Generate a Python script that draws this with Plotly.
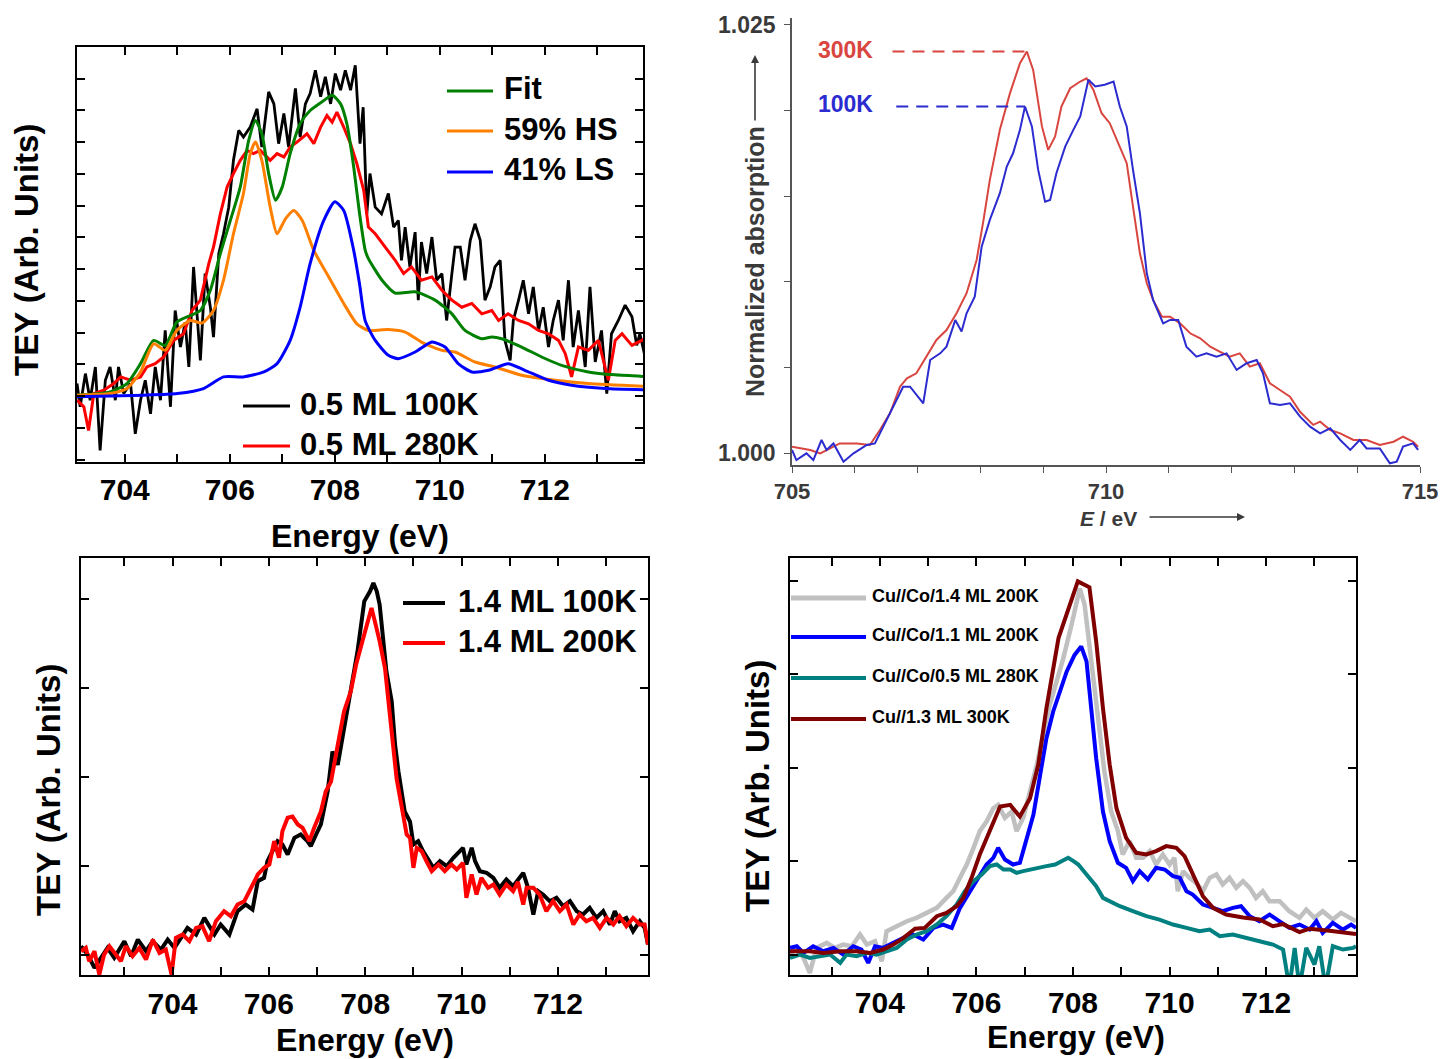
import numpy as np
import plotly.graph_objects as go

# ---------------- Panel A : 0.5 ML, fit with HS/LS components ----------------
A_100K_E = [703.09, 703.15, 703.25, 703.34, 703.44, 703.53, 703.63, 703.72, 703.82, 703.88, 703.98, 704.11, 704.2, 704.3,
            704.39, 704.49, 704.58, 704.68, 704.77, 704.87, 704.96, 705.06, 705.15, 705.22, 705.31, 705.44, 705.53, 705.63,
            705.69, 705.79, 705.88, 705.98, 706.07, 706.17, 706.26, 706.39, 706.52, 706.61, 706.74, 706.84, 706.93, 707.03,
            707.12, 707.25, 707.34, 707.44, 707.53, 707.63, 707.73, 707.82, 707.92, 708.01, 708.11, 708.2, 708.3, 708.39,
            708.48, 708.54, 708.61, 708.67, 708.77, 708.89, 709.02, 709.12, 709.21, 709.27, 709.34, 709.43, 709.53, 709.59,
            709.65, 709.75, 709.85, 709.94, 710.04, 710.13, 710.23, 710.29, 710.39, 710.48, 710.58, 710.67, 710.77, 710.86,
            710.96, 711.05, 711.15, 711.24, 711.34, 711.4, 711.5, 711.59, 711.69, 711.78, 711.88, 711.97, 712.07, 712.16,
            712.26, 712.35, 712.45, 712.54, 712.64, 712.77, 712.86, 712.96, 713.08, 713.18, 713.27, 713.4, 713.53, 713.66,
            713.75, 713.81, 713.91]
A_100K = [18.9, 13.3, 21.3, 14.9, 22.9, 2.8, 19.7, 22.9, 14.9, 22.9, 16.5, 18.9, 6.8, 14.9,
          19.7, 11.6, 22.9, 14.9, 31.7, 13.3, 36.5, 27.7, 33.7, 22.9, 47.0, 24.5, 45.4, 37.3,
          30.1, 50.2, 55.0, 61.4, 72.7, 79.9, 78.3, 80.7, 85.1, 75.9, 89.2, 86.3, 76.7, 84.0,
          75.9, 90.0, 78.3, 86.3, 88.8, 94.4, 88.0, 92.8, 86.3, 93.6, 89.6, 94.4, 89.6, 95.6,
          76.7, 85.5, 59.8, 69.5, 61.4, 59.8, 64.7, 56.6, 58.2, 48.6, 56.6, 47.0, 55.4, 39.0,
          53.0, 45.4, 54.2, 43.8, 45.4, 34.1, 45.4, 51.8, 51.8, 43.8, 53.4, 57.4, 53.4, 39.0,
          42.2, 47.0, 48.6, 29.3, 24.5, 34.1, 39.0, 43.8, 35.7, 42.2, 31.7, 37.3, 27.7, 34.1,
          39.0, 29.3, 43.8, 27.7, 36.5, 22.9, 42.2, 24.1, 31.7, 16.5, 30.9, 34.1, 37.8, 35.0,
          28.1, 30.9, 25.3]

A_280K_E = [703.09, 703.22, 703.31, 703.41, 703.6, 703.79, 703.92, 704.11, 704.3, 704.42, 704.58, 704.74, 704.93, 705.12,
            705.28, 705.44, 705.6, 705.69, 705.82, 705.95, 706.07, 706.2, 706.33, 706.45, 706.58, 706.77, 706.9, 707.03,
            707.15, 707.28, 707.47, 707.6, 707.73, 707.85, 707.95, 708.04, 708.17, 708.3, 708.42, 708.55, 708.64, 708.77,
            708.96, 709.15, 709.31, 709.46, 709.65, 709.85, 710.04, 710.23, 710.42, 710.61, 710.8, 710.99, 711.12, 711.3,
            711.5, 711.69, 711.88, 712.07, 712.26, 712.39, 712.51, 712.64, 712.83, 713.02, 713.21, 713.34, 713.47, 713.66,
            713.91]
A_280K = [14.9, 13.3, 7.6, 16.5, 17.3, 18.9, 20.5, 19.7, 20.5, 22.9, 23.7, 25.3, 29.3, 30.9,
          36.5, 39.0, 47.8, 51.8, 59.8, 66.3, 69.5, 72.7, 75.1, 74.3, 75.1, 72.7, 74.3, 73.5,
          75.9, 77.1, 79.1, 76.7, 80.7, 83.5, 81.9, 84.3, 80.7, 76.7, 71.9, 65.5, 56.6, 55.0,
          51.8, 48.6, 45.4, 47.0, 43.8, 44.6, 41.4, 39.0, 37.3, 38.2, 35.7, 36.5, 34.1, 35.7,
          34.1, 33.3, 31.7, 30.9, 29.3, 26.1, 20.5, 27.7, 26.9, 29.3, 19.7, 29.3, 30.9, 28.1,
          29.7]

A_FIT_E = [703.09, 703.72, 704.04, 704.3, 704.55, 704.77, 704.99, 705.25, 705.44, 705.63, 705.82, 706.01, 706.2, 706.36,
           706.49, 706.61, 706.74, 706.87, 707.0, 707.15, 707.34, 707.53, 707.79, 707.95, 708.11, 708.23, 708.36, 708.47,
           708.58, 708.64, 708.9, 709.15, 709.53, 709.91, 710.23, 710.48, 710.8, 710.99, 711.18, 711.56, 711.94, 712.32,
           712.83, 713.34, 713.91]
A_FIT = [16.1, 16.9, 18.9, 23.7, 29.3, 28.1, 33.7, 35.3, 36.5, 41.4, 50.2, 58.2, 66.3, 77.5,
         82.3, 79.1, 69.5, 63.1, 66.3, 74.3, 81.5, 84.7, 87.1, 88.4, 86.3, 81.5, 71.1, 60.0,
         51.0, 49.0, 43.8, 40.7, 41.0, 39.0, 35.7, 31.7, 29.7, 30.1, 29.7, 27.7, 25.3, 23.3,
         21.7, 21.0, 20.6]

A_HS_E = [703.09, 703.72, 704.04, 704.3, 704.55, 704.77, 704.99, 705.25, 705.47, 705.69, 705.88, 706.07, 706.26, 706.39,
          706.49, 706.61, 706.77, 706.9, 707.06, 707.22, 707.38, 707.6, 707.92, 708.17, 708.42, 708.64, 709.02, 709.34,
          709.65, 710.04, 710.29, 710.67, 711.05, 711.56, 712.2, 712.83, 713.91]
A_HS = [16.1, 16.5, 17.7, 21.7, 28.5, 26.9, 31.7, 34.1, 33.5, 36.5, 43.8, 55.0, 64.7, 74.3,
        77.1, 72.7, 61.4, 55.0, 58.6, 60.6, 58.2, 51.0, 43.8, 38.2, 33.3, 31.7, 31.9, 31.3,
        28.9, 26.9, 26.5, 24.1, 22.9, 20.9, 19.7, 18.9, 18.2]

A_LS_E = [703.09, 704.36, 705.0, 705.5, 705.88, 706.26, 706.65, 706.9, 707.15, 707.34, 707.53, 707.79, 708.0, 708.17,
          708.36, 708.47, 708.58, 708.77, 709.02, 709.21, 709.53, 709.85, 710.1, 710.35, 710.61, 710.93, 711.3, 711.62,
          712.07, 712.51, 713.15, 713.91]
A_LS = [15.7, 16.1, 16.5, 17.7, 20.5, 20.5, 21.7, 23.7, 29.3, 37.3, 47.8, 58.2, 62.7, 60.6,
        51.0, 43.0, 34.0, 29.3, 25.7, 24.9, 26.5, 28.9, 27.7, 23.7, 21.7, 22.1, 23.7, 22.1,
        19.7, 18.5, 17.7, 17.4]

# ---------------- Panel B : normalized absorption, 300K / 100K ----------------
B_300K_E = [705.0, 705.13, 705.29, 705.45, 705.6, 705.76, 706.03, 706.24, 706.4, 706.56, 706.72, 706.83, 706.98, 707.14,
            707.3, 707.46, 707.62, 707.78, 707.94, 708.05, 708.15, 708.31, 708.47, 708.63, 708.74, 708.84, 708.98, 709.08,
            709.19, 709.29, 709.43, 709.59, 709.69, 709.8, 709.93, 710.06, 710.17, 710.33, 710.43, 710.54, 710.65, 710.75,
            710.89, 711.02, 711.18, 711.34, 711.5, 711.66, 711.81, 711.97, 712.13, 712.29, 712.45, 712.61, 712.77, 712.93,
            713.09, 713.3, 713.41, 713.57, 713.73, 713.94, 714.15, 714.36, 714.58, 714.73, 714.89, 714.97]
B_300K_MILLI = [0.37, 0.27, 0.18, -0.02, 0.27, 0.56, 0.56, 0.47, 1.34, 2.32, 3.87, 4.36, 4.65, 5.63,
                6.6, 7.18, 8.16, 9.33, 11.27, 13.61, 15.95, 18.87, 21.0, 22.76, 23.44, 22.37, 19.07, 17.7,
                18.48, 20.23, 21.3, 21.69, 21.88, 21.2, 19.84, 19.26, 18.28, 16.92, 14.39, 11.66, 9.91, 8.94,
                7.96, 7.96, 7.57, 6.99, 6.7, 6.21, 5.92, 5.63, 5.82, 5.04, 5.24, 4.07, 3.68, 3.29,
                2.41, 1.64, 1.83, 1.34, 1.15, 0.76, 0.76, 0.47, 0.66, 0.95, 0.66, 0.37]

B_100K_E = [705.0, 705.07, 705.23, 705.34, 705.47, 705.55, 705.66, 705.82, 705.98, 706.19, 706.32, 706.45, 706.61, 706.77,
            706.88, 707.01, 707.09, 707.2, 707.36, 707.46, 707.6, 707.7, 707.78, 707.91, 708.02, 708.15, 708.31, 708.42,
            708.52, 708.63, 708.71, 708.82, 708.92, 709.03, 709.11, 709.21, 709.35, 709.48, 709.59, 709.72, 709.83, 709.98,
            710.12, 710.22, 710.33, 710.43, 710.54, 710.65, 710.75, 710.91, 711.02, 711.15, 711.28, 711.44, 711.6, 711.76,
            711.92, 712.08, 712.24, 712.4, 712.5, 712.61, 712.77, 712.93, 713.09, 713.25, 713.41, 713.57, 713.73, 713.89,
            714.04, 714.15, 714.36, 714.52, 714.63, 714.73, 714.89, 714.97]
B_100K_MILLI = [0.18, -0.41, -0.02, -0.41, 0.76, 0.18, 0.56, -0.51, -0.02, 0.47, 0.56, 1.54, 2.71, 3.87,
                3.87, 3.29, 2.9, 5.43, 5.82, 6.21, 7.77, 7.09, 8.16, 9.13, 12.05, 13.61, 15.17, 16.73,
                17.5, 18.87, 20.23, 19.07, 16.53, 14.68, 14.78, 16.34, 17.89, 18.87, 19.65, 21.79, 21.4, 21.5,
                21.69, 20.23, 19.07, 16.53, 14.0, 10.49, 8.94, 7.57, 7.77, 7.77, 6.21, 5.63, 5.82, 5.63,
                5.82, 4.85, 5.24, 5.43, 4.65, 2.9, 2.8, 2.9, 2.12, 1.54, 1.15, 1.44, 0.76, 0.18,
                0.76, 0.27, 0.27, -0.6, -0.51, 0.37, 0.56, 0.18]

# ---------------- Panel C : 1.4 ML, 100K / 200K ----------------
C_100K_E = [702.1, 702.24, 702.38, 702.51, 702.65, 702.79, 703.0, 703.14, 703.28, 703.45, 703.59, 703.76, 703.9, 704.04,
            704.17, 704.31, 704.49, 704.66, 704.87, 705.0, 705.18, 705.35, 705.52, 705.66, 705.77, 705.9, 705.97, 706.08,
            706.18, 706.28, 706.39, 706.53, 706.66, 706.8, 706.87, 706.98, 707.08, 707.22, 707.32, 707.43, 707.56, 707.7,
            707.84, 707.98, 708.1, 708.17, 708.24, 708.3, 708.37, 708.44, 708.55, 708.62, 708.69, 708.75, 708.82, 708.93,
            709.0, 709.1, 709.2, 709.31, 709.41, 709.55, 709.69, 709.83, 709.96, 710.03, 710.1, 710.21, 710.28, 710.38,
            710.52, 710.66, 710.79, 710.93, 711.07, 711.21, 711.28, 711.38, 711.49, 711.59, 711.69, 711.83, 711.97, 712.11,
            712.25, 712.39, 712.52, 712.66, 712.8, 712.94, 713.08, 713.18, 713.28, 713.42, 713.56, 713.7, 713.8, 713.87]
C_100K = [6.9, 4.9, 1.7, 4.1, 6.5, 4.1, 8.1, 4.5, 8.5, 5.7, 8.1, 6.1, 8.5, 6.5,
          8.9, 11.3, 9.7, 13.7, 9.7, 12.1, 9.7, 15.3, 16.9, 15.7, 22.5, 23.3, 27.3, 29.7,
          32.1, 31.3, 28.9, 32.9, 33.7, 32.1, 30.9, 33.7, 36.1, 44.0, 53.6, 50.4, 59.2, 68.0,
          77.6, 89.6, 92.0, 94.0, 92.0, 88.8, 81.6, 72.8, 65.6, 55.2, 48.8, 44.0, 39.2, 36.8,
          31.3, 32.1, 29.7, 27.7, 25.7, 27.3, 26.1, 28.1, 29.7, 30.5, 26.5, 30.5, 27.3, 24.9,
          24.5, 23.3, 20.9, 22.9, 21.3, 23.3, 24.5, 20.9, 14.5, 20.1, 19.3, 17.7, 18.5, 16.5,
          17.7, 15.3, 14.5, 16.1, 13.7, 15.3, 12.1, 15.3, 12.9, 13.7, 10.5, 12.9, 11.3, 7.3]

C_200K_E = [702.1, 702.2, 702.27, 702.38, 702.48, 702.58, 702.69, 702.79, 702.93, 703.03, 703.17, 703.31, 703.45, 703.59,
            703.73, 703.86, 703.98, 704.07, 704.21, 704.35, 704.49, 704.62, 704.76, 704.9, 705.07, 705.21, 705.35, 705.49,
            705.63, 705.77, 705.9, 706.01, 706.11, 706.21, 706.28, 706.39, 706.49, 706.6, 706.7, 706.84, 706.94, 707.08,
            707.18, 707.29, 707.43, 707.56, 707.7, 707.81, 707.94, 708.03, 708.13, 708.2, 708.3, 708.41, 708.51, 708.58,
            708.65, 708.75, 708.86, 708.93, 709.0, 709.07, 709.17, 709.27, 709.38, 709.52, 709.65, 709.79, 709.9, 710.03,
            710.1, 710.21, 710.31, 710.41, 710.55, 710.66, 710.79, 710.93, 711.07, 711.17, 711.28, 711.35, 711.49, 711.62,
            711.76, 711.9, 712.04, 712.18, 712.32, 712.45, 712.59, 712.73, 712.87, 713.01, 713.15, 713.28, 713.42, 713.56,
            713.7, 713.8, 713.87]
C_200K = [5.7, 6.5, 3.3, 5.7, 0.1, 4.9, 6.9, 5.3, 3.3, 6.9, 4.5, 6.5, 3.7, 8.5,
          5.3, 6.1, 0.1, 8.9, 9.7, 8.1, 11.3, 11.7, 8.1, 12.9, 15.3, 14.1, 16.9, 17.7,
          20.9, 24.1, 25.7, 26.5, 32.1, 28.1, 34.5, 37.7, 38.0, 36.1, 35.3, 32.1, 35.3, 39.2,
          44.0, 46.4, 55.2, 63.2, 68.0, 74.4, 80.0, 84.0, 88.0, 84.8, 80.0, 73.6, 63.2, 55.2,
          47.2, 40.8, 33.7, 32.9, 25.7, 30.5, 29.7, 27.3, 24.9, 26.5, 24.9, 26.5, 25.3, 26.9,
          18.5, 24.1, 19.3, 23.3, 20.9, 21.7, 19.3, 21.7, 20.1, 22.3, 16.9, 20.9, 20.9, 19.3,
          15.3, 17.7, 15.3, 16.9, 12.1, 14.5, 12.9, 13.7, 11.3, 13.7, 12.1, 14.1, 11.7, 13.7,
          12.1, 12.1, 7.3]

# ---------------- Panel D : Cu-capped samples ----------------
D_CO14_E = [702.14, 702.28, 702.42, 702.55, 702.69, 702.9, 703.07, 703.24, 703.42, 703.59, 703.73, 703.9, 704.04, 704.14,
            704.35, 704.56, 704.76, 704.97, 705.18, 705.38, 705.52, 705.66, 705.8, 705.94, 706.07, 706.21, 706.35, 706.45,
            706.59, 706.73, 706.83, 706.97, 707.11, 707.25, 707.38, 707.52, 707.66, 707.8, 707.97, 708.07, 708.14, 708.24,
            708.38, 708.52, 708.65, 708.79, 708.93, 709.03, 709.17, 709.31, 709.45, 709.59, 709.72, 709.86, 710.0, 710.1,
            710.17, 710.28, 710.41, 710.55, 710.69, 710.83, 710.97, 711.1, 711.24, 711.38, 711.52, 711.66, 711.79, 711.93,
            712.07, 712.28, 712.48, 712.69, 712.83, 713.0, 713.17, 713.38, 713.55, 713.73, 713.86]
D_CO14 = [4.9, 6.5, 4.1, 0.5, 6.5, 7.7, 6.5, 7.3, 6.9, 9.7, 7.3, 8.1, 3.3, 10.5,
          11.7, 12.9, 13.7, 14.9, 16.1, 18.5, 20.1, 23.3, 26.5, 30.5, 34.5, 36.8, 40.0, 40.8,
          37.7, 39.2, 34.5, 37.7, 44.0, 50.4, 57.6, 64.8, 70.4, 76.0, 84.0, 89.6, 92.7, 88.8,
          76.0, 61.6, 48.8, 39.2, 34.5, 28.9, 32.1, 28.1, 28.1, 29.7, 26.5, 28.9, 26.5, 28.1,
          20.1, 24.9, 23.3, 22.1, 20.1, 23.3, 24.1, 21.7, 23.3, 20.9, 22.5, 20.9, 18.5, 20.1,
          17.7, 17.7, 15.3, 13.7, 15.7, 13.7, 15.3, 13.3, 14.9, 13.7, 12.9]

D_CO11_E = [702.14, 702.28, 702.42, 702.62, 702.83, 703.04, 703.24, 703.45, 703.62, 703.76, 703.9, 704.07, 704.28, 704.49,
            704.69, 704.9, 705.11, 705.31, 705.49, 705.66, 705.87, 706.04, 706.21, 706.35, 706.45, 706.59, 706.76, 706.9,
            707.04, 707.18, 707.32, 707.45, 707.59, 707.73, 707.87, 708.03, 708.17, 708.28, 708.38, 708.48, 708.62, 708.76,
            708.93, 709.1, 709.24, 709.38, 709.55, 709.72, 709.9, 710.07, 710.21, 710.35, 710.48, 710.69, 710.9, 711.1,
            711.31, 711.48, 711.66, 711.86, 712.07, 712.28, 712.48, 712.69, 712.9, 713.04, 713.17, 713.38, 713.59, 713.76,
            713.86]
D_CO11 = [6.5, 6.9, 5.3, 6.9, 5.7, 6.5, 4.9, 6.9, 6.1, 2.9, 6.9, 6.5, 7.7, 8.9,
          9.7, 8.5, 11.3, 12.1, 11.3, 16.1, 20.1, 23.3, 26.5, 28.1, 30.5, 27.7, 26.5, 26.9,
          32.9, 38.4, 48.0, 56.8, 63.2, 68.0, 72.8, 76.7, 78.8, 75.2, 64.0, 52.0, 39.2, 32.1,
          26.9, 25.7, 22.5, 24.9, 22.9, 25.7, 25.3, 23.7, 23.3, 20.1, 19.3, 16.9, 16.1, 15.3,
          16.1, 16.5, 14.1, 12.9, 14.5, 12.9, 11.3, 12.1, 10.9, 12.9, 10.1, 12.5, 10.9, 12.1,
          11.3]

D_CO05_E = [702.14, 702.35, 702.55, 702.76, 702.97, 703.18, 703.31, 703.52, 703.73, 703.93, 704.14, 704.35, 704.56, 704.76,
            704.97, 705.18, 705.38, 705.59, 705.76, 705.94, 706.11, 706.28, 706.42, 706.56, 706.7, 706.83, 706.97, 707.11,
            707.28, 707.45, 707.63, 707.76, 707.9, 708.01, 708.11, 708.28, 708.48, 708.62, 708.76, 708.97, 709.24, 709.52,
            709.79, 710.07, 710.35, 710.62, 710.83, 711.04, 711.31, 711.59, 711.86, 712.14, 712.35, 712.48, 712.59, 712.69,
            712.83, 713.0, 713.1, 713.23, 713.38, 713.59, 713.8, 713.86]
D_CO05 = [4.1, 4.9, 4.1, 4.5, 4.9, 2.9, 4.9, 4.5, 5.3, 4.9, 5.7, 6.5, 8.5, 9.7,
          10.5, 12.1, 14.1, 16.9, 20.1, 22.5, 24.1, 26.1, 26.5, 25.3, 25.3, 24.5, 24.9, 25.3,
          25.7, 26.1, 26.5, 27.3, 28.1, 27.3, 26.5, 24.1, 21.3, 18.5, 17.7, 16.5, 15.3, 14.1,
          13.3, 12.1, 11.3, 10.5, 10.9, 9.3, 9.7, 8.9, 8.1, 7.3, 6.1, -3.0, 6.5, -3.0,
          6.5, 2.5, 6.9, -3.0, 6.9, 6.1, 6.5, 6.9]

D_CU13_E = [702.14, 702.55, 702.83, 703.18, 703.52, 703.8, 704.07, 704.28, 704.49, 704.73, 704.93, 705.18, 705.38, 705.59,
            705.73, 705.9, 706.07, 706.28, 706.49, 706.7, 706.9, 707.11, 707.28, 707.45, 707.59, 707.7, 708.1, 708.34,
            708.48, 708.62, 708.76, 708.9, 709.1, 709.31, 709.52, 709.72, 709.93, 710.14, 710.31, 710.48, 710.69, 710.9,
            711.17, 711.52, 711.86, 712.14, 712.35, 712.69, 712.9, 713.31, 713.66, 713.86]
D_CU13 = [5.7, 5.7, 5.3, 5.7, 5.7, 5.3, 6.1, 7.3, 8.9, 11.1, 11.3, 14.1, 14.9, 16.5,
          18.5, 23.3, 28.9, 34.5, 40.4, 40.8, 38.0, 42.4, 50.4, 64.0, 73.6, 80.8, 94.4, 93.0,
          80.0, 64.0, 50.4, 40.0, 32.9, 29.3, 28.9, 29.7, 30.9, 30.5, 28.5, 24.1, 18.9, 16.1,
          14.5, 13.8, 13.3, 11.7, 12.2, 10.3, 11.1, 10.6, 10.1, 9.8]

ENERGY_TICKS = list(range(703, 714))
B_TICKS_X = list(range(705, 716))
B_TICKS_Y = [1.000, 1.005, 1.010, 1.015, 1.020, 1.025]

# ---------------- figure ----------------
W, H = 1442, 1059
def px(X):
    return X / W
def py(Y):
    return 1 - Y / H

SANS = "Liberation Sans, Arial, sans-serif"

fig = go.Figure()

def add_line(x, y, color, width, axis, shape="linear"):
    fig.add_trace(go.Scatter(x=x, y=y, mode="lines", showlegend=False, hoverinfo="skip",
                             line=dict(color=color, width=width, shape=shape, smoothing=0.6 if shape == "spline" else None),
                             xaxis="x" + axis, yaxis="y" + axis))

# Panel A
add_line(A_100K_E, A_100K, "#000000", 2.8, "")
add_line(A_280K_E, A_280K, "#ff0000", 3.0, "")
add_line(A_FIT_E, A_FIT, "#008000", 3.0, "", "spline")
add_line(A_HS_E, A_HS, "#ff8000", 3.0, "", "spline")
add_line(A_LS_E, A_LS, "#0000ff", 3.0, "", "spline")

# Panel B
b300 = 1 + np.array(B_300K_MILLI) / 1000.0
b100 = 1 + np.array(B_100K_MILLI) / 1000.0
add_line(B_300K_E, b300, "#d9453f", 2.0, "2")
add_line(B_100K_E, b100, "#2b2bd0", 2.0, "2")

# Panel C
add_line(C_100K_E, C_100K, "#000000", 4.0, "3")
add_line(C_200K_E, C_200K, "#ff0000", 4.0, "3")

# Panel D
add_line(D_CO14_E, D_CO14, "#c0c0c0", 4.5, "4")
add_line(D_CO11_E, D_CO11, "#0000ff", 4.0, "4")
add_line(D_CO05_E, D_CO05, "#008080", 4.0, "4")
add_line(D_CU13_E, D_CU13, "#800000", 4.0, "4")

def frame_x(rng, dom, anchor, standoff):
    return dict(domain=dom, range=rng, anchor=anchor, showline=True, linecolor="black", linewidth=1.5,
                mirror="allticks", ticks="inside", ticklen=8, tickwidth=1.5, tickcolor="black",
                tickmode="array", tickvals=ENERGY_TICKS,
                ticktext=[str(v) if v % 2 == 0 else "" for v in ENERGY_TICKS],
                tickfont=dict(family=SANS, size=30, color="black", weight="bold"),
                ticklabelstandoff=standoff, showgrid=False, zeroline=False)

def frame_y(dom, anchor, t0, dt):
    return dict(domain=dom, range=[0, 100], anchor=anchor, showline=True, linecolor="black", linewidth=1.5,
                mirror="allticks", ticks="inside", ticklen=8, tickwidth=1.5, tickcolor="black",
                tickmode="linear", tick0=t0, dtick=dt, showticklabels=False, showgrid=False, zeroline=False)

fig.update_layout(
    width=W, height=H, margin=dict(l=0, r=0, t=0, b=0, autoexpand=False),
    paper_bgcolor="white", plot_bgcolor="white",
    xaxis=frame_x([703.09, 713.87], [px(77), px(643)], "y", 0),
    yaxis=frame_y([py(462), py(47)], "x", 0.6, 7.65),
    xaxis3=frame_x([702.1, 713.87], [px(81), px(648)], "y3", 1),
    yaxis3=frame_y([py(975), py(558)], "x3", 4.9, 21.3),
    xaxis4=frame_x([702.14, 713.86], [px(790), px(1356)], "y4", 0),
    yaxis4=frame_y([py(975), py(558)], "x4", 4.9, 22.4),
    xaxis2=dict(domain=[px(792), px(1420)], range=[705, 715], anchor="y2", showline=True, linecolor="#555555",
                linewidth=1.6, ticks="outside", ticklen=6, tickwidth=1.4, tickcolor="#555555",
                tickmode="array", tickvals=B_TICKS_X,
                ticktext=[str(v) if v % 5 == 0 else "" for v in B_TICKS_X],
                tickfont=dict(family=SANS, size=22, color="#3a3a3a", weight="bold"),
                ticklabelstandoff=0, showgrid=False, zeroline=False),
    yaxis2=dict(domain=[py(465), py(18)], range=[0.9993, 1.0254], anchor="x2", showline=True, linecolor="#555555",
                linewidth=1.6, ticks="outside", ticklen=6, tickwidth=1.4, tickcolor="#555555",
                tickmode="array", tickvals=B_TICKS_Y,
                ticktext=["1.000", "", "", "", "", "1.025"],
                tickfont=dict(family=SANS, size=23, color="#3a3a3a", weight="bold"),
                ticklabelstandoff=4, showgrid=False, zeroline=False),
)

def text(X, Y, s, size, family=SANS, color="black", angle=0, xanchor="center", weight="bold"):
    fig.add_annotation(xref="paper", yref="paper", x=px(X), y=py(Y), text=s, showarrow=False,
                       xanchor=xanchor, yanchor="middle", textangle=angle,
                       font=dict(family=family, size=size, color=color, weight=weight))

def legend_item(x0, x1, Y, color, width, label, size, xt):
    fig.add_shape(type="line", xref="paper", yref="paper", x0=px(x0), x1=px(x1), y0=py(Y), y1=py(Y),
                  line=dict(color=color, width=width))
    text(xt, Y - 2, label, size, xanchor="left")

# axis titles
text(360, 536, "Energy (eV)", 32)
text(26, 250, "TEY (Arb. Units)", 33, angle=-90)
text(365, 1040, "Energy (eV)", 32)
text(48, 790, "TEY (Arb. Units)", 33, angle=-90)
text(1076, 1037, "Energy (eV)", 32)
text(757, 786, "TEY (Arb. Units)", 33, angle=-90)

# legends panel A
legend_item(447, 493, 91, "#008000", 3, "Fit", 31, 502)
legend_item(447, 493, 131, "#ff8000", 3, "59% HS", 31, 502)
legend_item(447, 493, 172, "#0000ff", 3, "41% LS", 31, 502)
legend_item(243, 290, 406, "#000000", 3, "0.5 ML 100K", 31, 298)
legend_item(243, 290, 446, "#ff0000", 3, "0.5 ML 280K", 31, 298)
# legend panel C
legend_item(403, 445, 603, "#000000", 4, "1.4 ML 100K", 31, 456)
legend_item(403, 445, 643, "#ff0000", 4, "1.4 ML 200K", 31, 456)
# legend panel D
legend_item(791, 866, 598, "#c0c0c0", 5, "Cu//Co/1.4 ML 200K", 18, 870)
legend_item(791, 866, 637, "#0000ff", 4, "Cu//Co/1.1 ML 200K", 18, 870)
legend_item(791, 866, 678, "#008080", 4, "Cu//Co/0.5 ML 280K", 18, 870)
legend_item(791, 866, 719, "#800000", 4, "Cu//1.3 ML 300K", 18, 870)

# panel B labels and peak markers
i300 = int(np.argmax(b300))
e100 = np.array(B_100K_E)
i100 = int(np.argmax(np.where(e100 < 709.0, b100, -np.inf)))
fig.add_shape(type="line", xref="x2", yref="y2", x0=706.6, x1=B_300K_E[i300], y0=b300[i300], y1=b300[i300],
              line=dict(color="#d9453f", width=2, dash="12px,8px"))
fig.add_shape(type="line", xref="x2", yref="y2", x0=706.66, x1=B_100K_E[i100], y0=b100[i100], y1=b100[i100],
              line=dict(color="#2b2bd0", width=2, dash="12px,8px"))
text(845, 50, "300K", 23, color="#d9453f")
text(845, 104, "100K", 23, color="#2b2bd0")
text(755, 262, "Normalized absorption", 25, color="#3a3a3a", angle=-90)
fig.add_annotation(xref="paper", yref="paper", x=px(755), y=py(55), ax=0, ay=67, text="", showarrow=True,
                   arrowhead=2, arrowsize=1, arrowwidth=1.6, arrowcolor="#3a3a3a")
text(1108, 518, "<i>E</i> / eV", 21, color="#3a3a3a")
fig.add_annotation(xref="paper", yref="paper", x=px(1245), y=py(517), ax=-97, ay=0, text="", showarrow=True,
                   arrowhead=2, arrowsize=1, arrowwidth=1.6, arrowcolor="#3a3a3a")

fig.write_html("out.html", config={"displayModeBar": False},
               post_script="document.body.style.margin='0';document.body.style.padding='0';"
                           "document.documentElement.style.overflow='hidden';")
